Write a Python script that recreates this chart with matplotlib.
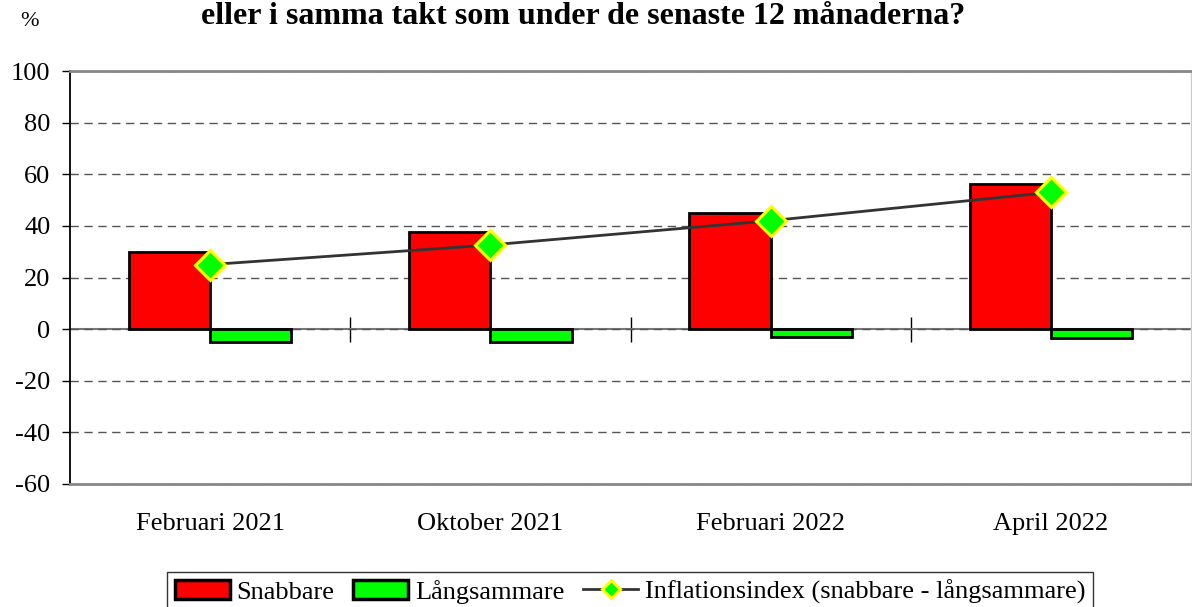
import matplotlib
matplotlib.use("Agg")
import matplotlib.pyplot as plt
import numpy as np

plt.rcParams['font.family'] = ['Liberation Serif', 'DejaVu Serif']

categories = ["Februari 2021", "Oktober 2021", "Februari 2022", "April 2022"]
snabbare = [30, 37.6, 45, 56.3]
langsammare = [-5, -5, -3, -3.3]
inflationsindex = [25, 32.6, 42, 53]
yticks = [-60, -40, -20, 0, 20, 40, 60, 80, 100]

title = "eller i samma takt som under de senaste 12 månaderna?"

fig = plt.figure(figsize=(11.92, 6.07), dpi=100)
ax = fig.add_axes([70/1192, 1-484/607, 1121/1192, 413/607])

x = np.arange(len(categories))
w = 0.29
b1 = ax.bar(x, snabbare, width=-w, align='edge', color='#ff0000', edgecolor='black',
            linewidth=2, label='Snabbare', zorder=3)
b2 = ax.bar(x, langsammare, width=w, align='edge', color='#00ff00', edgecolor='black',
            linewidth=2, label='Långsammare', zorder=3)
l1, = ax.plot(x, inflationsindex, color='#333333', linewidth=2, marker='D', markersize=15,
              markerfacecolor='#00ff00', markeredgecolor='#ffff00', markeredgewidth=2.2,
              label='Inflationsindex (snabbare - långsammare)', zorder=4)

ax.set_xlim(-0.5, len(categories) - 0.5)
ax.set_ylim(-60, 100)
ax.set_yticks(yticks)
ax.set_yticklabels([str(v) for v in yticks], fontsize=19)
ax.tick_params(axis='y', direction='out', length=6, width=1, color='black', pad=8)
ax.set_xticks(x)
ax.set_xticklabels(categories, fontsize=19)
ax.tick_params(axis='x', length=0, pad=21)

ax.yaxis.grid(True, linestyle=(0, (6, 4)), color='#555555', linewidth=1, zorder=0)
ax.set_axisbelow(True)

ax.spines['left'].set_color('black')
ax.spines['left'].set_linewidth(1.3)
for s in ['top', 'bottom']:
    ax.spines[s].set_color('#888888')
    ax.spines[s].set_linewidth(2)
ax.spines['right'].set_color('#cccccc')
ax.spines['right'].set_linewidth(1)

# zero line with category boundary ticks
zero_frac = (0 - (-60)) / (100 - (-60))
sec = ax.secondary_xaxis(zero_frac)
sec.set_xticks(x[:-1] + 0.5)
sec.set_xticklabels([])
sec.tick_params(direction='inout', length=18, width=1, color='black')
sec.spines['bottom'].set_color('#777777')
sec.spines['bottom'].set_linewidth(1.5)
sec.spines['bottom'].set_zorder(2)

fig.text(583/1192, 1-17/607, title, ha='center', va='center', fontsize=23,
         fontweight='bold')
fig.text(30/1192, 1-22/607, '%', ha='center', va='center', fontsize=16)

leg = fig.legend(handles=[b1, b2, l1], loc='lower center',
                 bbox_to_anchor=(630/1192, -0.008), ncol=3,
                 fontsize=19, frameon=True, fancybox=False, edgecolor='black',
                 handlelength=2.1, handletextpad=0.25, columnspacing=0.7,
                 borderpad=0.3, borderaxespad=0, markerscale=0.6)
leg.get_frame().set_linewidth(1)
for p in leg.get_patches():
    p.set_linewidth(2.5)

fig.savefig('out.png', dpi=100)
